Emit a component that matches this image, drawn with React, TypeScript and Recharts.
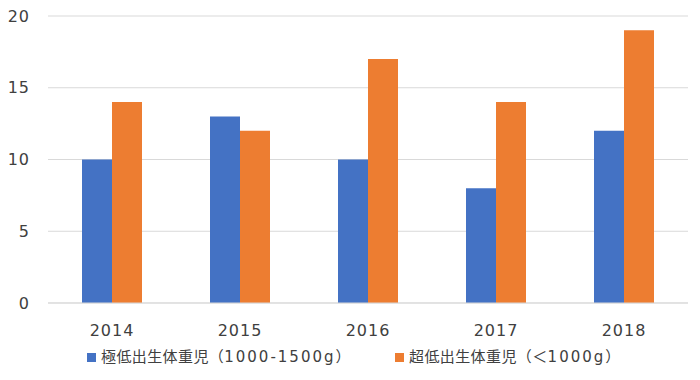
import React from 'react';
import { BarChart, Bar, XAxis, YAxis, CartesianGrid } from 'recharts';

// ─── Data ─────────────────────────────────────────────────────────────────────

const years = ['2014', '2015', '2016', '2017', '2018'];
const veryLow = [10, 13, 10, 8, 12];      // 極低出生体重児（1000-1500g）
const extremelyLow = [14, 12, 17, 14, 19]; // 超低出生体重児（＜1000g）
const yTicks = [0, 5, 10, 15, 20];

const SERIES = [
  { key: 'veryLow', name: '極低出生体重児（1000-1500g）', color: '#4472C4' },
  { key: 'extremelyLow', name: '超低出生体重児（＜1000g）', color: '#ED7D31' },
];

const data = years.map((y, i) => ({ year: y, veryLow: veryLow[i], extremelyLow: extremelyLow[i] }));

const FONT = '"DejaVu Sans", "Noto Sans CJK JP", sans-serif';
const TEXT = '#404040';

// ─── Legend ───────────────────────────────────────────────────────────────────

// ASCII runs get a little extra tracking so digits read as wide as the original
function spaced(label: string) {
  return label.split(/([\x20-\x7e]+)/).filter(Boolean).map((part, i) =>
    /^[\x20-\x7e]+$/.test(part)
      ? <span key={i} style={{ letterSpacing: 2 }}>{part}</span>
      : <span key={i} style={{ letterSpacing: 0.4 }}>{part}</span>
  );
}

function BottomLegend() {
  const xs = [87, 395];
  return (
    <div style={{ position: 'absolute', top: 347, left: 0, width: 700, height: 20 }}>
      {SERIES.map((s, i) => (
        <div key={s.key} style={{ position: 'absolute', left: xs[i], top: 0, display: 'flex', alignItems: 'center', whiteSpace: 'nowrap' }}>
          <span style={{ width: 9, height: 9, background: s.color, display: 'inline-block', marginRight: 5 }} />
          <span style={{ fontSize: 15, color: TEXT, fontFamily: FONT, lineHeight: '20px' }}>{spaced(s.name)}</span>
        </div>
      ))}
    </div>
  );
}

// ─── Chart ────────────────────────────────────────────────────────────────────

export default function App() {
  return (
    <div style={{ position: 'absolute', top: 0, left: 0, width: 700, height: 380, background: '#fff', fontFamily: FONT }}>
      <BarChart width={700} height={380} data={data} barGap={0}
                margin={{ top: 16, right: 12, left: 8, bottom: 47 }}>
        <CartesianGrid stroke="#d9d9d9" vertical={false} />
        <XAxis dataKey="year" tickLine={false} axisLine={{ stroke: '#d9d9d9' }} tickMargin={16}
               tick={{ fill: TEXT, fontSize: 16, fontFamily: FONT, letterSpacing: 1 }} />
        <YAxis domain={[0, 20]} ticks={yTicks} width={40} tickLine={false} axisLine={false} tickMargin={12}
               tick={{ fill: TEXT, fontSize: 16, fontFamily: FONT, letterSpacing: 1 }} />
        {SERIES.map((s) => (
          <Bar key={s.key} dataKey={s.key} name={s.name} fill={s.color} barSize={30} isAnimationActive={false} />
        ))}
      </BarChart>
      <BottomLegend />
    </div>
  );
}
